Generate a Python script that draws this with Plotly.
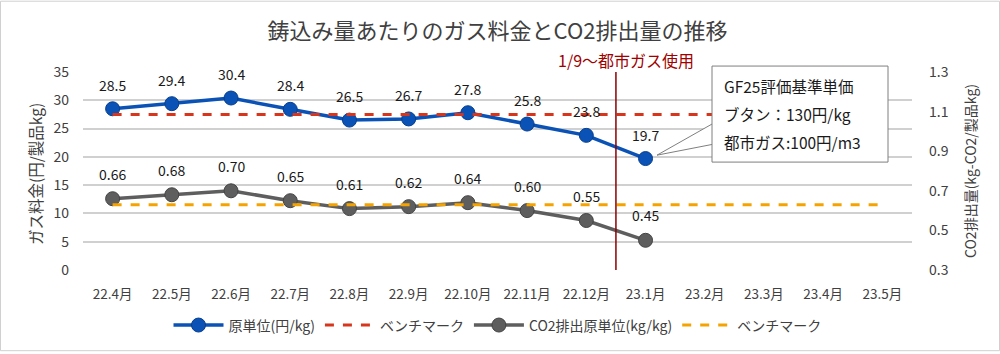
import plotly.graph_objects as go

categories = ["22.4月", "22.5月", "22.6月", "22.7月", "22.8月", "22.9月", "22.10月",
              "22.11月", "22.12月", "23.1月", "23.2月", "23.3月", "23.4月", "23.5月"]
cost_per_kg = [28.5, 29.4, 30.4, 28.4, 26.5, 26.7, 27.8, 25.8, 23.8, 19.7]
cost_benchmark = [27.5] * 14
co2_per_kg = [0.66, 0.68, 0.70, 0.65, 0.61, 0.62, 0.64, 0.60, 0.55, 0.45]
co2_benchmark = [0.63] * 14
left_ticks = [0, 5, 10, 15, 20, 25, 30, 35]
right_ticks = [0.3, 0.5, 0.7, 0.9, 1.1, 1.3]

FONT = "Noto Sans CJK JP"
TXT = "#404040"
BLUE = "#0A52B5"
GREY = "#5E5E5E"
RED = "#D8361C"
ORANGE = "#F5A300"

# plot area in pixels
L, R, T, B = 83, 912, 72, 272
W, H = R - L, B - T


def px(x):
    return (x - L) / W


def py(y):
    return (B - y) / H


fig = go.Figure()
fig.add_trace(go.Scatter(
    x=categories[:len(cost_per_kg)], y=cost_per_kg, name="原単位(円/kg)",
    mode="lines+markers", line=dict(color=BLUE, width=3.5),
    marker=dict(size=14, color=BLUE, line=dict(color="#083F8C", width=1)),
    yaxis="y"))
fig.add_trace(go.Scatter(
    x=categories, y=cost_benchmark, name="ベンチマーク", mode="lines",
    line=dict(color=RED, width=3, dash="dash"), yaxis="y"))
fig.add_trace(go.Scatter(
    x=categories[:len(co2_per_kg)], y=co2_per_kg, name="CO2排出原単位(kg/kg)",
    mode="lines+markers", line=dict(color=GREY, width=3.5),
    marker=dict(size=14, color=GREY, line=dict(color="#444444", width=1)),
    yaxis="y2"))
fig.add_trace(go.Scatter(
    x=categories, y=co2_benchmark, name="ベンチマーク", mode="lines",
    line=dict(color=ORANGE, width=3, dash="dash"), yaxis="y2"))

annotations = []
for c, v in zip(categories, cost_per_kg):
    annotations.append(dict(x=c, y=v, xref="x", yref="y", text=f"{v:.1f}",
                            showarrow=False, yshift=24,
                            font=dict(size=14, color="#1A1A1A", family=FONT)))
for c, v in zip(categories, co2_per_kg):
    annotations.append(dict(x=c, y=v, xref="x", yref="y2", text=f"{v:.2f}",
                            showarrow=False, yshift=25,
                            font=dict(size=14, color="#1A1A1A", family=FONT)))

# vertical event line label
annotations.append(dict(x=px(626), y=py(60), xref="paper", yref="paper",
                        xanchor="center", yanchor="middle",
                        text="1/9～都市ガス使用", showarrow=False,
                        font=dict(size=16, color="#A00000", family=FONT)))
# callout text
for text, yy in [("GF25評価基準単価", 86), ("ブタン：130円/kg", 114), ("都市ガス:100円/m3", 143)]:
    annotations.append(dict(x=px(722), y=py(yy), xref="paper", yref="paper",
                            text=text, showarrow=False, xanchor="left", yanchor="middle",
                            font=dict(size=15.5, color="#1A1A1A", family=FONT)))
# axis titles
annotations.append(dict(x=px(35), y=py(175), xref="paper", yref="paper",
                        xanchor="center", yanchor="middle",
                        text="ガス料金(円/製品kg)", textangle=-90, showarrow=False,
                        font=dict(size=15.5, color=TXT, family=FONT)))
annotations.append(dict(x=px(970), y=py(172), xref="paper", yref="paper",
                        xanchor="center", yanchor="middle",
                        text="CO2排出量(kg-CO2/製品kg)", textangle=-90, showarrow=False,
                        font=dict(size=14, color=TXT, family=FONT)))

shapes = [
    # vertical line between 22.12 and 23.1
    dict(type="line", xref="x", yref="paper", x0=8.5, x1=8.5, y0=0, y1=1,
         line=dict(color="#8B0000", width=1.5), layer="above"),
    # callout wedge
    dict(type="path", xref="paper", yref="paper",
         path=f"M {px(713)},{py(124)} L {px(657)},{py(156)} L {px(713)},{py(145)} Z",
         fillcolor="white", line=dict(color="#7F7F7F", width=1), layer="above"),
    # callout box
    dict(type="rect", xref="paper", yref="paper",
         x0=px(712), x1=px(888), y0=py(163), y1=py(66),
         fillcolor="white", line=dict(color="#7F7F7F", width=1), layer="above"),
    # outer border
    dict(type="rect", xref="paper", yref="paper",
         x0=px(0.5), x1=px(999.5), y0=py(353.5), y1=py(0.5),
         line=dict(color="#D0D0D0", width=1), layer="above"),
]

fig.update_layout(
    width=1000, height=354,
    margin=dict(l=L, r=1000 - R, t=T, b=354 - B),
    paper_bgcolor="white", plot_bgcolor="white",
    font=dict(family=FONT, color=TXT, size=13),
    title=dict(text="鋳込み量あたりのガス料金とCO2排出量の推移",
               x=0.5, xanchor="center", xref="paper", y=1 - 31 / 354, yanchor="middle",
               font=dict(size=22, color=TXT, family=FONT)),
    xaxis=dict(type="category", categoryorder="array", categoryarray=categories,
               range=[-0.5, len(categories) - 0.5], showgrid=False,
               showline=False, ticks="", ticklabelstandoff=14,
               tickfont=dict(size=13.5, color=TXT)),
    yaxis=dict(range=[0, 35], tickvals=left_ticks, showgrid=True,
               gridcolor="#D0D0D0", gridwidth=1.5, zeroline=False, showline=False,
               ticks="", ticklabelstandoff=13, tickfont=dict(size=14, color=TXT)),
    yaxis2=dict(range=[0.3, 1.3], tickvals=right_ticks, tickformat=".1f",
                overlaying="y", side="right", showgrid=False, zeroline=False,
                showline=False, ticks="", ticklabelstandoff=16,
                tickfont=dict(size=14, color=TXT)),
    legend=dict(orientation="h", x=0.5, xanchor="center", y=py(328), yanchor="middle",
                font=dict(size=14, color=TXT), itemwidth=50, bgcolor="rgba(0,0,0,0)"),
    annotations=annotations,
    shapes=shapes,
    showlegend=True,
)

fig.write_html("out.html")
